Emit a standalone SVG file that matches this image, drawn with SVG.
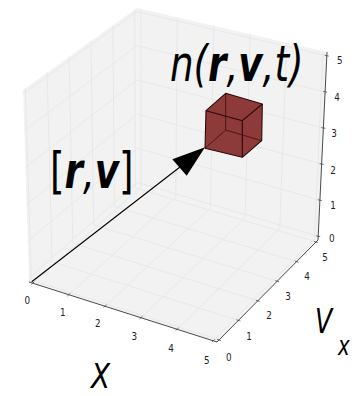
<svg xmlns="http://www.w3.org/2000/svg" width="362" height="396" viewBox="0 0 362 396">
<style>
.pane{fill:#f2f2f2;stroke:none}
.grid{stroke:#e4e4e4;stroke-width:0.8;fill:none}
.axis{stroke:#4a4a4a;stroke-width:1;fill:none}
.tick{stroke:#4a4a4a;stroke-width:0.8}
.tl{font-family:"DejaVu Sans",sans-serif;font-size:11px;fill:#222;text-anchor:middle}
.big{font-family:"DejaVu Sans",sans-serif;fill:#000}
.face{fill:#8c3a3a;stroke:none}
.edge{stroke:#2a0808;stroke-width:1.1;fill:none;stroke-linejoin:round}
.hid{stroke:#4a1010;stroke-width:0.9;fill:none}
</style>
<rect width="362" height="396" fill="#ffffff"/>
<g id="panes">
<polygon class="pane" points="29,282 137.5,186 137,8 23,90"/>
<polygon class="pane" points="137.5,186 318,240 327,52 137,8"/>
<polygon class="pane" points="29,282 217,342 318,240 137.5,186"/>
</g>
<g id="grid" class="grid">
<line x1="32.76" y1="283.2" x2="141.11" y2="187.08"/>
<line x1="68.86" y1="294.72" x2="175.77" y2="197.45"/>
<line x1="104.95" y1="306.24" x2="210.42" y2="207.82"/>
<line x1="141.05" y1="317.76" x2="245.08" y2="218.18"/>
<line x1="177.14" y1="329.28" x2="279.73" y2="228.55"/>
<line x1="213.24" y1="340.8" x2="314.39" y2="238.92"/>
<line x1="31.17" y1="280.08" x2="219.02" y2="339.96"/>
<line x1="52.0" y1="261.65" x2="238.41" y2="320.38"/>
<line x1="72.83" y1="243.22" x2="257.8" y2="300.79"/>
<line x1="93.67" y1="224.78" x2="277.2" y2="281.21"/>
<line x1="114.5" y1="206.35" x2="296.59" y2="261.62"/>
<line x1="135.33" y1="187.92" x2="315.98" y2="242.04"/>
<line x1="31.17" y1="280.08" x2="25.28" y2="88.36"/>
<line x1="52.0" y1="261.65" x2="47.17" y2="72.62"/>
<line x1="72.83" y1="243.22" x2="69.06" y2="56.87"/>
<line x1="93.67" y1="224.78" x2="90.94" y2="41.13"/>
<line x1="114.5" y1="206.35" x2="112.83" y2="25.38"/>
<line x1="135.33" y1="187.92" x2="134.72" y2="9.64"/>
<line x1="28.88" y1="278.16" x2="137.49" y2="182.44"/>
<line x1="27.73" y1="241.3" x2="137.39" y2="148.26"/>
<line x1="26.58" y1="204.43" x2="137.3" y2="114.09"/>
<line x1="25.42" y1="167.57" x2="137.2" y2="79.91"/>
<line x1="24.27" y1="130.7" x2="137.11" y2="45.74"/>
<line x1="23.12" y1="93.84" x2="137.01" y2="11.56"/>
<line x1="141.11" y1="187.08" x2="140.8" y2="8.88"/>
<line x1="175.77" y1="197.45" x2="177.28" y2="17.33"/>
<line x1="210.42" y1="207.82" x2="213.76" y2="25.78"/>
<line x1="245.08" y1="218.18" x2="250.24" y2="34.22"/>
<line x1="279.73" y1="228.55" x2="286.72" y2="42.67"/>
<line x1="314.39" y1="238.92" x2="323.2" y2="51.12"/>
<line x1="137.49" y1="182.44" x2="318.18" y2="236.24"/>
<line x1="137.39" y1="148.26" x2="319.91" y2="200.14"/>
<line x1="137.3" y1="114.09" x2="321.64" y2="164.05"/>
<line x1="137.2" y1="79.91" x2="323.36" y2="127.95"/>
<line x1="137.11" y1="45.74" x2="325.09" y2="91.86"/>
<line x1="137.01" y1="11.56" x2="326.82" y2="55.76"/>
</g>
<g id="axes">
<polyline class="axis" points="29,282 217,342 318,240 327,52"/>
<g class="tick">
<line x1="31.3" y1="284.5" x2="34.2" y2="281.9"/>
<line x1="67.4" y1="296.0" x2="70.3" y2="293.4"/>
<line x1="103.5" y1="307.5" x2="106.4" y2="304.9"/>
<line x1="139.6" y1="319.0" x2="142.5" y2="316.4"/>
<line x1="175.7" y1="330.5" x2="178.6" y2="327.9"/>
<line x1="211.8" y1="342.0" x2="214.7" y2="339.4"/>
<line x1="217.1" y1="339.4" x2="221.0" y2="340.6"/>
<line x1="236.5" y1="319.8" x2="240.4" y2="321.0"/>
<line x1="255.9" y1="300.2" x2="259.7" y2="301.4"/>
<line x1="275.3" y1="280.6" x2="279.1" y2="281.8"/>
<line x1="294.7" y1="261.0" x2="298.5" y2="262.2"/>
<line x1="314.1" y1="241.4" x2="317.9" y2="242.6"/>
<line x1="316.2" y1="235.9" x2="320.2" y2="236.6"/>
<line x1="317.9" y1="199.8" x2="321.9" y2="200.5"/>
<line x1="319.6" y1="163.7" x2="323.6" y2="164.4"/>
<line x1="321.4" y1="127.6" x2="325.4" y2="128.3"/>
<line x1="323.1" y1="91.5" x2="327.1" y2="92.2"/>
<line x1="324.8" y1="55.4" x2="328.8" y2="56.1"/>
</g>
</g>
<g id="ticklabels">
<text class="tl" transform="translate(27.3,304) scale(0.8,1)">0</text>
<text class="tl" transform="translate(62.7,316.3) scale(0.8,1)">1</text>
<text class="tl" transform="translate(97.7,327.3) scale(0.8,1)">2</text>
<text class="tl" transform="translate(134.3,339.7) scale(0.8,1)">3</text>
<text class="tl" transform="translate(171,351.7) scale(0.8,1)">4</text>
<text class="tl" transform="translate(206.7,364) scale(0.8,1)">5</text>
<text class="tl" transform="translate(228.7,360.7) scale(0.8,1)">0</text>
<text class="tl" transform="translate(249,340) scale(0.8,1)">1</text>
<text class="tl" transform="translate(269,319) scale(0.8,1)">2</text>
<text class="tl" transform="translate(288,300) scale(0.8,1)">3</text>
<text class="tl" transform="translate(307,280) scale(0.8,1)">4</text>
<text class="tl" transform="translate(325,261) scale(0.8,1)">5</text>
<text class="tl" transform="translate(331.7,242) scale(0.8,1)">0</text>
<text class="tl" transform="translate(333,209) scale(0.8,1)">1</text>
<text class="tl" transform="translate(333,174) scale(0.8,1)">2</text>
<text class="tl" transform="translate(334,137) scale(0.8,1)">3</text>
<text class="tl" transform="translate(337,101) scale(0.8,1)">4</text>
<text class="tl" transform="translate(339.7,64) scale(0.8,1)">5</text>
</g>
<g id="cube">
<polygon class="face" points="206,110.7 225.7,93.3 262.3,104 261.7,140.7 242.3,157.3 205,148.3"/>
<polyline class="hid" points="225.7,93.3 225.7,130 261.7,140.7"/>
<line class="hid" x1="225.7" y1="130" x2="205" y2="148.3"/>
<polygon class="edge" points="206,110.7 225.7,93.3 262.3,104 242.3,120.7"/>
<polyline class="edge" points="206,110.7 205,148.3 242.3,157.3 261.7,140.7 262.3,104"/>
<line class="edge" x1="242.3" y1="120.7" x2="242.3" y2="157.3"/>
</g>
<g id="connectors">
<line x1="31.7" y1="281.7" x2="180" y2="167" stroke="#000" stroke-width="1.1"/>
<polygon points="205,147.3 172.3,159.3 186.7,175.7" fill="#000"/>
</g>
<g id="labels">
<text class="big" font-size="49" font-style="italic" transform="translate(170,80.5) scale(0.76,1)">n(<tspan font-weight="bold">r</tspan>,<tspan font-weight="bold">v</tspan>,t)</text>
<text class="big" font-size="49" transform="translate(50,187.5) scale(0.76,1)">[<tspan font-style="italic" font-weight="bold">r</tspan><tspan font-style="italic">,</tspan><tspan font-style="italic" font-weight="bold">v</tspan>]</text>
<text class="big" font-size="34" font-style="italic" transform="translate(91,388) scale(0.82,1)">X</text>
<text class="big" font-size="33" font-style="italic" transform="translate(315,332.7) scale(0.76,1)">V</text>
<text class="big" font-size="26" font-style="italic" transform="translate(338,355) scale(0.76,1)">x</text>
</g>
</svg>
